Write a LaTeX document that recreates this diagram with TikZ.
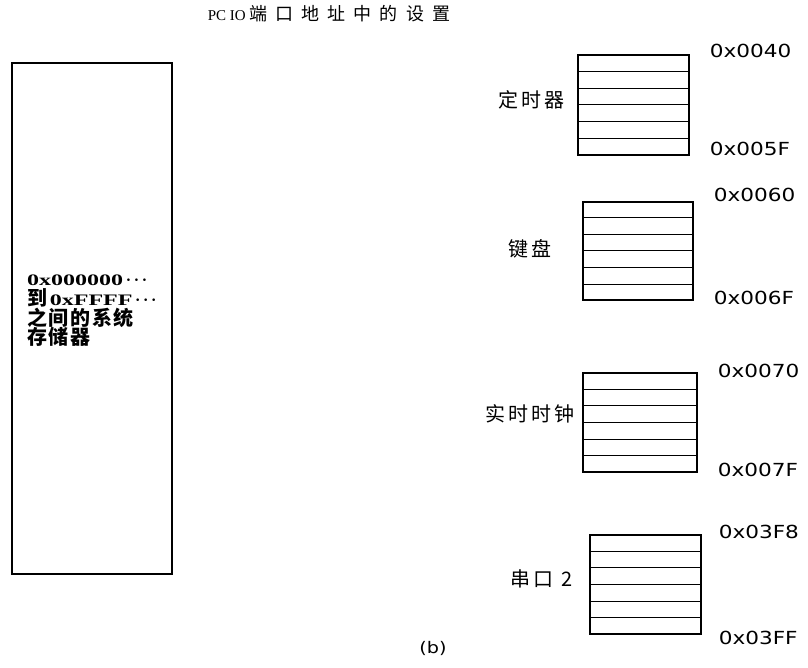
\documentclass[tikz,border=0pt]{standalone}
\usepackage{fontspec}
\setmainfont{Liberation Serif}
\newfontfamily\cjk{Noto Sans CJK SC}
\newfontfamily\cjkmem[LetterSpace=8]{Noto Sans CJK SC}
\newfontfamily\cjktitle[LetterSpace=45]{Noto Sans CJK SC}
\newfontfamily\cjklabel[LetterSpace=15]{Noto Sans CJK SC}
\newfontfamily\memlatin[FakeStretch=1.5]{Liberation Serif}
\newfontfamily\addrfont[FakeStretch=1.2]{DejaVu Sans}
\newcommand{\memdots}{{\rmfamily\fontsize{16}{16}\selectfont\,·\,·\,·}}
\usetikzlibrary{positioning,calc}

\begin{document}
\begin{tikzpicture}[x=1pt, y=1pt,
    portbox/.style={rectangle, draw, line width=1.2pt, inner sep=0pt},
    portlabel/.style={font=\cjklabel\fontsize{20}{20}\selectfont, inner sep=0pt},
    addr/.style={font=\addrfont\fontsize{18}{18}\selectfont, inner sep=0pt, anchor=west},
    memtext/.style={font=\bfseries\fontsize{20}{19.6}\selectfont, align=left, inner sep=0pt}
]
    \useasboundingbox (0,0) rectangle (808,667);

    % Title
    \node (title) at (329,653) {\fontsize{15}{15}\selectfont PC IO {\cjktitle\fontsize{18}{18}\selectfont 端口地址中的设置}};

    % System memory
    \node (mem) [rectangle, draw, line width=1.6pt, minimum width=160pt, minimum height=511pt, inner sep=0pt] at (92,348.5) {};
    \node (memtxt) [memtext, anchor=west] at (27,356) {%
        {\memlatin\fontsize{16}{16}\selectfont 0x000000}\memdots\\
        {\cjkmem 到}{\memlatin\fontsize{16}{16}\selectfont\,0xFFFF}\memdots\\
        {\cjkmem 之间的系统}\\
        {\cjkmem 存储器}};

    % Port blocks
    \node (timer) [portbox, minimum width=111pt, minimum height=100pt] at (633.5,562) {};
    \node (kbd)   [portbox, minimum width=110pt, minimum height=98pt]  at (638,416) {};
    \node (rtc)   [portbox, minimum width=114pt, minimum height=99pt]  at (640,244.5) {};
    \node (com)   [portbox, minimum width=111pt, minimum height=99pt]  at (645.5,82.5) {};

    % Rows
    \foreach \b in {timer,kbd,rtc,com}
        \foreach \i in {1,...,5}
            \draw [line width=1pt] ($(\b.north west)!\i/6!(\b.south west)$) -- ($(\b.north east)!\i/6!(\b.south east)$);

    % Device names
    \node (timer-name) [portlabel, left=13pt of timer, yshift=5pt] {定时器};
    \node (kbd-name)   [portlabel, left=31pt of kbd, yshift=2pt] {键盘};
    \node (rtc-name)   [portlabel, left=8pt of rtc, yshift=9pt] {实时时钟};
    \node (com-name)   [portlabel, left=17pt of com, yshift=6pt] {串口 2};

    % Addresses
    \node (timer-lo) [addr] at ($(timer.north east)+(20,3)$) {0x0040};
    \node (timer-hi) [addr] at ($(timer.south east)+(20,7)$) {0x005F};
    \node (kbd-lo)   [addr] at ($(kbd.north east)+(20,6)$) {0x0060};
    \node (kbd-hi)   [addr] at ($(kbd.south east)+(20,3)$) {0x006F};
    \node (rtc-lo)   [addr] at ($(rtc.north east)+(20,1)$) {0x0070};
    \node (rtc-hi)   [addr] at ($(rtc.south east)+(20,3)$) {0x007F};
    \node (com-lo)   [addr] at ($(com.north east)+(17,2)$) {0x03F8};
    \node (com-hi)   [addr] at ($(com.south east)+(17,-3)$) {0x03FF};

    % Caption
    \node (caption) at (433,19) {\addrfont\fontsize{16}{16}\selectfont (b)};
\end{tikzpicture}
\end{document}
